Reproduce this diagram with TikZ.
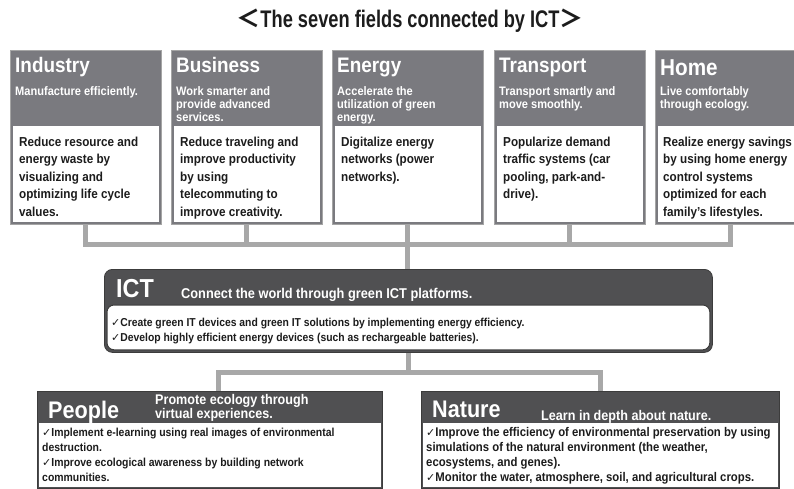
\documentclass[tikz,border=0pt]{standalone}
\usepackage{fontspec}
\setmainfont{Liberation Sans}[FakeStretch=0.9]
\newfontfamily\titlefont{Liberation Sans}[FakeStretch=0.76]
\newfontfamily\cjkfont{Noto Sans CJK JP}
\newfontfamily\symfont{DejaVu Sans}
\newcommand\chk{{\symfont\mdseries\fontsize{11}{11}\selectfont ✓}}
\usetikzlibrary{calc}
\definecolor{hdrgray}{RGB}{122,122,127}
\definecolor{edgegray}{RGB}{165,165,165}
\definecolor{darkhdr}{RGB}{80,80,82}
\definecolor{darkedge}{RGB}{60,60,60}
\definecolor{conngray}{RGB}{168,168,168}
\definecolor{inkc}{RGB}{28,28,28}
\tikzset{
  field/.style={draw=edgegray, fill=hdrgray, line width=0.8pt, minimum width=151pt, minimum height=174pt, anchor=north west, inner sep=0},
  darkbox/.style={draw=darkedge, fill=darkhdr, line width=0.8pt, anchor=north west, inner sep=0},
  conn/.style={draw=conngray, line width=5pt},
  hd/.style={anchor=base west, inner sep=0, text=white, font=\bfseries\fontsize{21}{21}\selectfont},
  bighd/.style={anchor=base west, inner sep=0, text=white, font=\bfseries\fontsize{24}{24}\selectfont},
  sub/.style={anchor=north west, inner sep=0, text=white, align=left, font=\bfseries\fontsize{12.3}{13}\selectfont},
  subb/.style={anchor=north west, inner sep=0, text=white, align=left, font=\bfseries\fontsize{14}{14}\selectfont},
  body/.style={anchor=north west, inner sep=0, text=inkc, align=left, font=\bfseries\fontsize{13}{17.5}\selectfont},
  chkbody/.style={anchor=north west, inner sep=0, text=inkc, align=left, font=\bfseries\fontsize{12.5}{15}\selectfont},
  ictbody/.style={anchor=north west, inner sep=0, text=inkc, align=left, font=\bfseries\fontsize{11.5}{15}\selectfont}
}
\begin{document}
\begin{tikzpicture}[x=1pt,y=-1pt]
\useasboundingbox (0,0) rectangle (794,489);
% title
\node[anchor=base, inner sep=0, text=inkc, font=\titlefont\bfseries\fontsize{24}{24}\selectfont] (title) at (410,28) {{\cjkfont ＜}The seven fields connected by ICT{\cjkfont ＞}};
% field boxes
\node[field] (ind) at (10,50) {};
\node[field] (bus) at (171,50) {};
\node[field] (ene) at (332,50) {};
\node[field] (tra) at (494,50) {};
\node[field] (hom) at (655,50) {};
\foreach \n in {ind,bus,ene,tra,hom}
  \fill[white] ($(\n.north west)+(3,76)$) rectangle ($(\n.south east)+(-3,-3)$);
% connectors top
\coordinate (busy) at (0,244);
\draw[conn] (ind.south) -- (ind.south |- busy) -- (hom.south |- busy) -- (hom.south);
\draw[conn] (bus.south) -- (bus.south |- busy);
\draw[conn] (tra.south) -- (tra.south |- busy);
% ICT box
\node[darkbox, rounded corners=8pt, minimum width=608pt, minimum height=83pt] (ict) at (104,269) {};
\draw[conn] (ene.south) -- (ene.south |- ict.north);
\draw[fill=white, draw=darkedge, line width=1pt, rounded corners=7pt] ($(ict.north west)+(3,36)$) rectangle ($(ict.south east)+(-3,-3)$);
% headings top
\node[hd] (indT) at (15,73) {Industry};
\node[hd] (busT) at (176,73) {Business};
\node[hd] (eneT) at (337,73) {Energy};
\node[hd] (traT) at (499,73) {Transport};
\node[hd, font=\bfseries\fontsize{23}{23}\selectfont] (homT) at (660,76) {Home};
\node[sub] (indS) at (15,86) {\rule{0pt}{9pt}Manufacture efficiently.};
\node[sub] (busS) at (176,86) {\rule{0pt}{9pt}Work smarter and\\provide advanced\\services.};
\node[sub] (eneS) at (337,86) {\rule{0pt}{9pt}Accelerate the\\utilization of green\\energy.};
\node[sub] (traS) at (499,86) {\rule{0pt}{9pt}Transport smartly and\\move smoothly.};
\node[sub] (homS) at (660,86) {\rule{0pt}{9pt}Live comfortably\\through ecology.};
% bodies top
\node[body] (indB) at (19,136) {\rule{0pt}{10pt}Reduce resource and\\energy waste by\\visualizing and\\optimizing life cycle\\values.};
\node[body] (busB) at (180,136) {\rule{0pt}{10pt}Reduce traveling and\\improve productivity\\by using\\telecommuting to\\improve creativity.};
\node[body] (eneB) at (341,136) {\rule{0pt}{10pt}Digitalize energy\\networks (power\\networks).};
\node[body] (traB) at (503,136) {\rule{0pt}{10pt}Popularize demand\\traffic systems (car\\pooling, park-and-\\drive).};
\node[body] (homB) at (663,136) {\rule{0pt}{10pt}Realize energy savings\\by using home energy\\control systems\\optimized for each\\family’s lifestyles.};
% ICT texts
\node[anchor=base west, inner sep=0, text=white, font=\bfseries\fontsize{26}{26}\selectfont] (ictT) at (116,297) {ICT};
\node[anchor=base west, inner sep=0, text=white, font=\bfseries\fontsize{14.2}{14}\selectfont] (ictS) at (181,298) {Connect the world through green ICT platforms.};
\node[ictbody] (ictB) at (111,318) {\rule{0pt}{8pt}\chk Create green IT devices and green IT solutions by implementing energy efficiency.\\\chk Develop highly efficient energy devices (such as rechargeable batteries).};
% People / Nature boxes
\node[darkbox, minimum width=345pt, minimum height=97pt] (peo) at (37,391) {};
\node[darkbox, minimum width=358pt, minimum height=97pt] (nat) at (421,391) {};
\foreach \n in {peo,nat}
  \fill[white] ($(\n.north west)+(2,32)$) rectangle ($(\n.south east)+(-2,-2)$);
% bottom connectors
\coordinate (boty) at (0,372);
\coordinate (pst) at (218,391);
\draw[conn] (ict.south) -- (ict.south |- boty);
\draw[conn] (pst) -- (pst |- boty) -- (nat.north |- boty) -- (nat.north);
% People texts
\node[bighd] (peoT) at (48,418) {People};
\node[subb] (peoS) at (155,394) {\rule{0pt}{10pt}Promote ecology through\\virtual experiences.};
\node[chkbody, font=\bfseries\fontsize{11.6}{15}\selectfont] (peoB) at (42,427) {\rule{0pt}{9pt}\chk Implement e-learning using real images of environmental\\destruction.\\\chk Improve ecological awareness by building network\\communities.};
% Nature texts
\node[bighd] (natT) at (432,417) {Nature};
\node[subb] (natS) at (541,410) {\rule{0pt}{10pt}Learn in depth about nature.};
\node[chkbody, font=\bfseries\fontsize{12.6}{15}\selectfont] (natB) at (426,427) {\rule{0pt}{9pt}\chk Improve the efficiency of environmental preservation by using\\simulations of the natural environment (the weather,\\ecosystems, and genes).\\\chk Monitor the water, atmosphere, soil, and agricultural crops.};
\end{tikzpicture}
\end{document}
